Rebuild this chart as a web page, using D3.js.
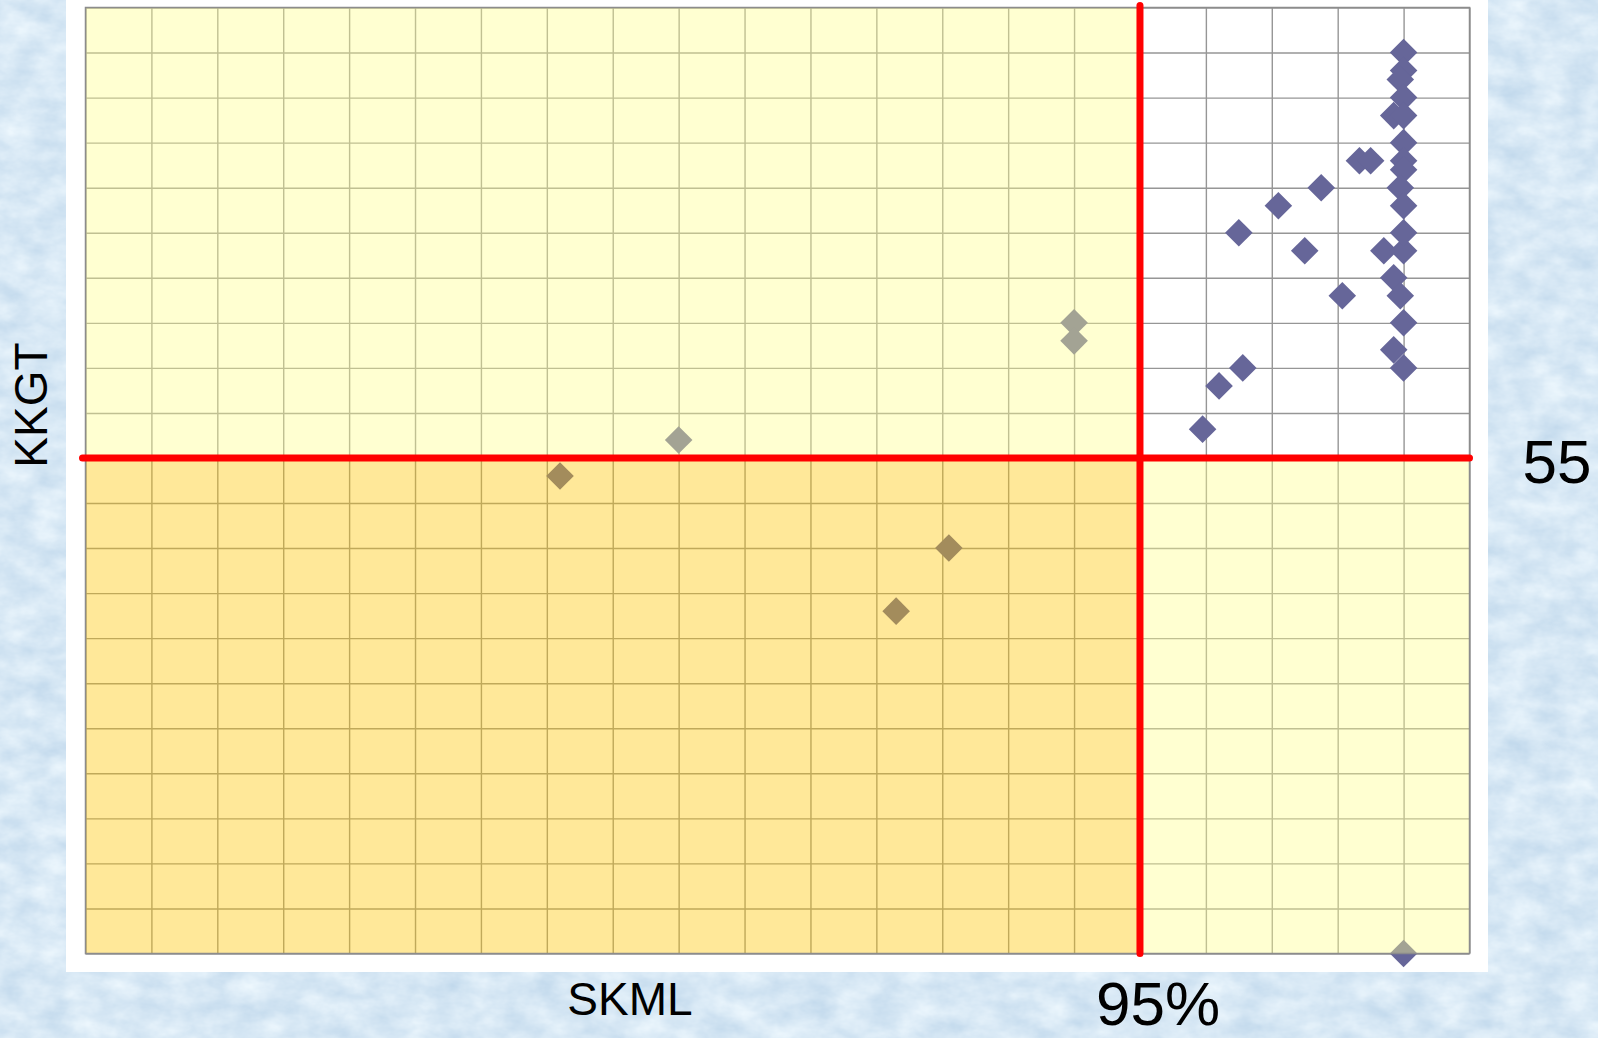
<!DOCTYPE html>
<html>
<head>
<meta charset="utf-8">
<script src="https://cdn.jsdelivr.net/npm/d3@7"></script>
<style>
  html, body { margin: 0; padding: 0; background: #d8e7f6; }
  svg { display: block; }
  text { font-family: "Liberation Sans", Arial, Helvetica, sans-serif; fill: #000; }
</style>
</head>
<body>
<svg id="chart" width="1598" height="1038"></svg>
<script>
// ---------------- data ----------------
const skml = [99, 99, 98.95, 99, 98.85, 99, 99, 98.33, 98.5, 99, 99, 98.95, 99, 97.75, 97.1, 96.5,
              97.5, 98.7, 99, 99, 98.85, 98.95, 98.07, 99, 98.85, 99, 96.56, 96.2, 95.95,
              94, 94, 88, 86.2, 92.1, 91.3, 99];
const kkgt = [100, 98, 97, 95, 93, 93, 90, 88, 88, 88, 87, 85, 83, 85, 83, 80,
              78, 78, 78, 80, 75, 73, 73, 70, 67, 65, 65, 63, 58.2,
              70, 68, 57, 53, 45, 38, 0];
const xDomain = [79, 100];
const yDomain = [0, 105];
const xStep = 1;
const yStep = 5;
const xThreshold = 95;
const yThreshold = 55;
const xTitle = "SKML";
const yTitle = "KKGT";
const xThresholdLabel = "95%";
const yThresholdLabel = "55";

// ---------------- layout ----------------
const W = 1598, H = 1038;
const plot = { left: 85.5, right: 1469.5, top: 7.5, bottom: 953.5 };
const svg = d3.select("#chart");

const x = d3.scaleLinear().domain(xDomain).range([plot.left, plot.right]);
const y = d3.scaleLinear().domain(yDomain).range([plot.bottom, plot.top]);

// background texture
const defs = svg.append("defs");
const f = defs.append("filter").attr("id", "tissue")
  .attr("x", 0).attr("y", 0).attr("width", "100%").attr("height", "100%")
  .attr("color-interpolation-filters", "sRGB");
f.append("feTurbulence").attr("type", "fractalNoise")
  .attr("baseFrequency", "0.03 0.05").attr("numOctaves", 4).attr("seed", 3).attr("result", "n");
f.append("feColorMatrix").attr("type", "matrix").attr("in", "n")
  .attr("values", "0.2 0 0 0 0.745  0.14 0 0 0 0.84  0.08 0 0 0 0.92  0 0 0 0 1");
defs.append("clipPath").attr("id", "plotClip").append("rect")
  .attr("x", plot.left).attr("y", plot.top)
  .attr("width", plot.right - plot.left).attr("height", plot.bottom - plot.top);

svg.append("rect").attr("width", W).attr("height", H).attr("fill", "#d8e7f6");
svg.append("rect").attr("width", W).attr("height", H).attr("filter", "url(#tissue)");

// white panel
svg.append("rect").attr("x", 66).attr("y", 0).attr("width", 1422).attr("height", 972).attr("fill", "#ffffff");

// gridlines via axes
const xTicks = d3.range(xDomain[0], xDomain[1] + 0.001, xStep);
const yTicks = d3.range(yDomain[0], yDomain[1] + 0.001, yStep);
const gx = svg.append("g").attr("transform", `translate(0,${plot.bottom})`)
  .call(d3.axisBottom(x).tickValues(xTicks).tickSize(-(plot.bottom - plot.top)).tickFormat(""));
const gy = svg.append("g").attr("transform", `translate(${plot.left},0)`)
  .call(d3.axisLeft(y).tickValues(yTicks).tickSize(-(plot.right - plot.left)).tickFormat(""));
[gx, gy].forEach(g => {
  g.select(".domain").remove();
  g.selectAll(".tick line").attr("stroke", "#969696").attr("stroke-width", 1.4);
});

// markers
const diamond = d3.symbol(d3.symbolSquare, 380);
svg.append("g").selectAll("path").data(skml.map((v, i) => [v, kkgt[i]])).join("path")
  .attr("d", diamond)
  .attr("transform", d => `translate(${x(d[0])},${y(d[1])}) rotate(45)`)
  .attr("fill", "#666699");

// quadrant shading (semi-transparent, over grid and markers)
const shade = svg.append("g").attr("clip-path", "url(#plotClip)");
const quads = [
  { x0: xDomain[0], x1: xThreshold, y0: yThreshold, y1: yDomain[1], c: "rgba(255,255,140,0.40)" },
  { x0: xThreshold, x1: xDomain[1], y0: yDomain[0], y1: yThreshold, c: "rgba(255,255,140,0.40)" },
  { x0: xDomain[0], x1: xThreshold, y0: yDomain[0], y1: yThreshold, c: "rgba(255,198,0,0.40)" }
];
shade.selectAll("rect").data(quads).join("rect")
  .attr("x", d => x(d.x0)).attr("y", d => y(d.y1))
  .attr("width", d => x(d.x1) - x(d.x0)).attr("height", d => y(d.y0) - y(d.y1))
  .attr("fill", d => d.c);

// plot border
svg.append("rect").attr("x", plot.left).attr("y", plot.top)
  .attr("width", plot.right - plot.left).attr("height", plot.bottom - plot.top)
  .attr("fill", "none").attr("stroke", "#8c8c8c").attr("stroke-width", 1.5);

// threshold lines
svg.append("line")
  .attr("x1", x(xDomain[0]) - 3).attr("x2", x(xDomain[1]))
  .attr("y1", y(yThreshold)).attr("y2", y(yThreshold))
  .attr("stroke", "#ff0000").attr("stroke-width", 7).attr("stroke-linecap", "round");
svg.append("line")
  .attr("x1", x(xThreshold)).attr("x2", x(xThreshold))
  .attr("y1", y(yDomain[1]) - 2).attr("y2", y(yDomain[0]))
  .attr("stroke", "#ff0000").attr("stroke-width", 7).attr("stroke-linecap", "round");

// texts
svg.append("text").attr("x", 630).attr("y", 1015).attr("text-anchor", "middle")
  .attr("font-size", 46).text(xTitle);
svg.append("text").attr("transform", "translate(47,405) rotate(-90)").attr("text-anchor", "middle")
  .attr("font-size", 46).text(yTitle);
svg.append("text").attr("x", 1158).attr("y", 1025).attr("text-anchor", "middle")
  .attr("font-size", 62).text(xThresholdLabel);
svg.append("text").attr("x", 1557).attr("y", 483).attr("text-anchor", "middle")
  .attr("font-size", 62).text(yThresholdLabel);
</script>
</body>
</html>
